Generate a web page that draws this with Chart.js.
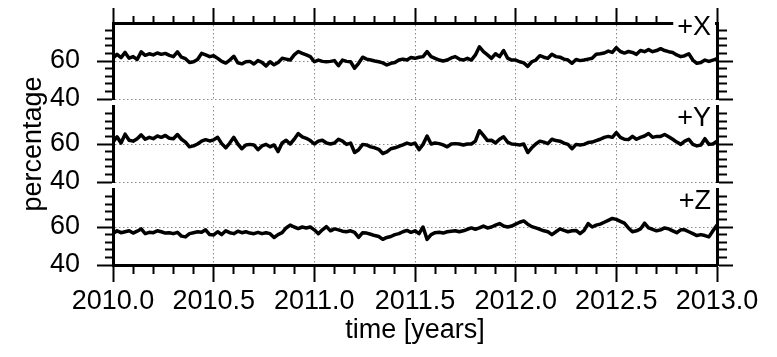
<!DOCTYPE html>
<html>
<head>
<meta charset="utf-8">
<script src="https://cdn.jsdelivr.net/npm/chart.js@4/dist/chart.umd.min.js"></script>
<style>
  html, body { margin: 0; padding: 0; background: #fff; }
  #wrap { position: relative; width: 777px; height: 357px; overflow: hidden; }
  canvas { position: absolute; left: 0; }
</style>
</head>
<body>
<div id="wrap">
  <canvas id="panelX" width="777" height="180" style="top:-40px"></canvas>
  <canvas id="panelY" width="777" height="200" style="top:40px"></canvas>
  <canvas id="panelZ" width="777" height="217" style="top:140px"></canvas>
</div>
<script>
// sampled every 0.02 yr from 2010.0 to 2013.0 (151 points per component)
const startYear = 2010;
const sampleStep = 0.02;

const xSeries = [
    61.5, 63.5, 61.8, 64.5, 61.5, 62.3, 60.8, 64.8, 63.0, 63.8,
    63.2, 64.2, 63.5, 64.0, 63.0, 62.3, 64.8, 62.0, 61.2, 59.2,
    59.6, 60.8, 64.0, 63.2, 62.3, 62.8, 61.4, 59.8, 58.9, 60.5,
    62.5, 59.0, 58.5, 59.6, 59.8, 58.4, 60.2, 59.3, 57.4, 59.6,
    58.0, 59.2, 61.4, 61.0, 60.5, 63.2, 65.0, 64.0, 63.2, 62.3,
    59.6, 60.5, 59.8, 59.6, 59.8,
    60.2, 57.5, 60.5, 59.8, 59.6, 56.2, 58.8, 62.0, 61.0, 60.5,
    60.0, 59.6, 59.0, 57.9, 58.8, 59.2, 60.5, 61.0, 60.5, 61.8,
    61.4, 62.0, 62.3, 64.9, 62.3, 61.4, 60.5, 60.0, 60.5, 61.6,
    62.3, 61.0, 60.5, 61.4, 60.5, 63.2, 67.5, 64.9, 63.2, 61.4,
    63.8, 62.3, 65.5, 61.5, 60.5, 60.5, 59.6, 59.0, 57.2, 59.6,
    60.5, 62.8, 62.0, 61.4,
    63.5, 62.3, 62.0, 61.0, 60.5, 58.8, 60.8, 60.2, 60.5, 61.0,
    61.4, 63.5, 63.8, 64.2, 65.2, 64.5, 67.0, 65.0, 64.2, 65.0,
    64.5, 63.5, 65.5, 64.9, 66.0, 64.9, 65.5, 66.5, 65.5, 64.9,
    64.5, 63.2, 62.3, 62.8, 63.8, 60.5, 58.8, 59.2, 60.5, 59.8,
    60.5, 61.2
];

const ySeries = [
    61.0, 63.8, 60.5, 65.2, 62.0, 61.5, 62.8, 64.8, 62.5, 63.5,
    62.8, 64.2, 63.5, 64.5, 63.0, 62.8, 65.0, 62.5, 61.0, 58.5,
    59.0, 60.0, 61.5, 62.3, 61.6, 62.2, 63.5, 60.2, 58.0, 60.5,
    63.5, 60.0, 57.5, 59.5, 59.8, 59.5, 57.0, 59.0, 59.8, 58.5,
    59.5, 56.0, 60.5, 62.0, 60.0, 62.5, 65.5, 63.8, 63.0, 61.8,
    60.0, 61.5, 62.0, 60.5, 60.0,
    60.5, 62.5, 61.5, 59.8, 60.5, 55.5, 57.0, 59.8, 59.5, 58.5,
    58.0, 57.2, 55.0, 55.8, 57.5, 58.0, 58.8, 59.5, 60.5, 59.8,
    60.5, 57.0, 59.8, 64.2, 60.0, 60.5, 60.2, 59.5, 58.5, 60.0,
    60.2, 60.0, 59.5, 60.0, 60.0, 61.5, 67.0, 64.5, 61.8, 62.0,
    60.5, 62.5, 63.8, 61.0, 60.0, 59.8, 59.5, 60.0, 55.5, 58.0,
    60.0, 61.5, 61.0, 60.2,
    62.5, 61.8, 61.5, 60.5, 59.8, 57.5, 59.8, 59.5, 59.8, 60.8,
    61.0, 61.8, 62.5, 63.5, 64.0, 63.5, 66.0, 63.5, 62.5, 62.3,
    64.0, 62.5, 63.5, 64.2, 65.5, 63.5, 64.0, 64.0, 65.0, 63.8,
    62.5, 61.0, 59.8, 61.5, 62.5, 59.8, 59.0, 59.5, 62.8, 59.8,
    60.0, 61.5
];

const zSeries = [
    56.5, 58.0, 57.0, 57.5, 58.0, 56.8, 57.8, 59.0, 56.5, 57.2,
    57.0, 58.0, 57.5, 56.8, 57.0, 56.5, 57.2, 55.2, 54.8, 56.5,
    57.0, 57.5, 57.2, 58.5, 56.0, 55.8, 57.5, 56.0, 58.0, 57.0,
    56.5, 57.8, 57.0, 57.5, 56.8, 56.5, 57.2, 56.5, 57.0, 56.5,
    54.5, 56.0, 57.0, 59.5, 61.0, 60.0, 59.2, 60.0, 59.5, 60.0,
    58.5, 56.5, 58.5, 60.2, 58.0,
    59.0, 58.5, 57.8, 57.5, 58.0, 57.2, 54.5, 57.0, 56.8, 56.2,
    55.5, 55.0, 53.5, 54.5, 55.0, 56.0, 56.5, 57.5, 58.2, 57.2,
    58.0, 56.5, 60.0, 53.5, 56.0, 57.0, 57.2, 56.8, 57.5, 57.8,
    58.0, 57.5, 58.0, 58.8, 59.5, 58.8, 59.5, 60.5, 59.5, 60.0,
    61.0, 61.8, 60.5, 60.0, 60.5, 61.5, 62.5, 63.2, 61.5, 60.2,
    59.5, 58.8, 58.0, 57.5,
    56.0, 57.5, 59.0, 58.2, 57.5, 58.0, 58.2, 56.5, 58.2, 61.8,
    60.0, 61.0, 61.5, 62.5, 63.5, 64.5, 64.0, 63.0, 62.0, 59.5,
    57.5, 58.0, 59.0, 62.0, 59.5, 58.8, 58.0, 58.5, 59.5, 59.0,
    58.0, 57.0, 58.5, 58.5, 57.5, 56.5, 55.5, 56.0, 55.5, 54.8,
    58.0, 61.0
];

const panelNames = ['+X', '+Y', '+Z'];
const yMin = 40, yMax = 80, yStep = 4, yMajor = 20;
const xMin = 2010, xMax = 2013, xStep = 0.1, xMajor = 0.5;

const FONT = '"Liberation Sans", Arial, Helvetica, sans-serif';
const FS = 27;
const DOT = '#8a8a8a';
const NONE = 'rgba(0,0,0,0)';

const years = xSeries.map((v, i) => startYear + i * sampleStep);

function isMajorX(v) {
    return Math.abs(v / xMajor - Math.round(v / xMajor)) < 1e-6;
}
function isMajorY(v) {
    return Math.abs(v % yMajor) < 1e-6;
}

function yScale(side, labels, title) {
    return {
        type: 'linear',
        position: side,
        min: yMin,
        max: yMax,
        afterFit: s => { s.width = side === 'left' ? 113 : 60; },
        ticks: {
            stepSize: yStep,
            autoSkip: false,
            display: labels,
            padding: 17,
            color: '#000',
            font: { family: FONT, size: FS },
            callback: v => (isMajorY(v) && v < yMax) ? String(v) : ''
        },
        grid: {
            drawOnChartArea: side === 'left',
            color: c => (c.tick && isMajorY(c.tick.value) && c.tick.value < yMax) ? DOT : NONE,
            lineWidth: 1,
            tickLength: 16,
            tickWidth: 2,
            tickColor: c => (c.tick && c.tick.value < yMax) ? '#000' : NONE,
            tickBorderDash: c => (c.tick && isMajorY(c.tick.value)) ? [] : [8, 8],
            tickBorderDashOffset: c => (side === 'left' && c.tick && !isMajorY(c.tick.value)) ? 8 : 0
        },
        border: { display: true, color: '#000', width: 3, dash: [1.5, 2.5] },
        title: title ? {
            display: true,
            text: title,
            color: '#000',
            font: { family: FONT, size: FS },
            padding: { top: 17, bottom: 0 }
        } : { display: false }
    };
}

function xScale(pos, ticksOn, labels, height, title) {
    const tl = pos === 'top' ? 15 : 17;
    const minor = 7;
    return {
        type: 'linear',
        position: pos,
        min: xMin,
        max: xMax,
        afterFit: s => { s.height = height; },
        ticks: {
            stepSize: xStep,
            maxTicksLimit: 100,
            autoSkip: false,
            maxRotation: 0,
            minRotation: 0,
            display: labels,
            padding: 3,
            color: '#000',
            font: { family: FONT, size: FS },
            callback: v => isMajorX(v) ? v.toFixed(1) : ''
        },
        grid: {
            drawTicks: ticksOn,
            color: c => (c.tick && isMajorX(c.tick.value) && c.tick.value > xMin + 0.01 && c.tick.value < xMax - 0.01) ? DOT : NONE,
            lineWidth: 1,
            tickLength: tl,
            tickWidth: 2,
            tickColor: '#000',
            tickBorderDash: c => (c.tick && isMajorX(c.tick.value)) ? [] : (pos === 'top' ? [minor, tl - minor] : [minor, 30]),
            tickBorderDashOffset: c => (pos === 'top' && c.tick && !isMajorX(c.tick.value)) ? minor : 0
        },
        border: { display: ticksOn, color: '#000', width: 3, dash: [1.5, 2.5] },
        title: title ? {
            display: true,
            text: title,
            color: '#000',
            font: { family: FONT, size: FS },
            padding: { top: 0, bottom: 10 }
        } : { display: false }
    };
}

const panelLabel = {
    id: 'panelLabel',
    afterDraw(chart, args, o) {
        const { ctx, chartArea } = chart;
        ctx.save();
        ctx.font = FS + 'px ' + FONT;
        ctx.textAlign = 'right';
        ctx.textBaseline = 'alphabetic';
        const w = ctx.measureText(o.text).width;
        if (o.clear) {
            ctx.fillStyle = '#fff';
            ctx.fillRect(chartArea.right - w - 10, chartArea.top + o.dy - 28, w + 8, 32);
        }
        ctx.fillStyle = '#000';
        ctx.fillText(o.text, chartArea.right - 6, chartArea.top + o.dy);
        ctx.restore();
    }
};

function makePanel(id, series, name, cfg) {
    const pts = series.map((v, i) => ({ x: years[i], y: v }));
    return new Chart(document.getElementById(id), {
        type: 'line',
        data: {
            datasets: [{
                data: pts,
                borderColor: '#000',
                borderWidth: 3.5,
                borderJoinStyle: 'round',
                pointRadius: 0,
                tension: 0,
                fill: false
            }]
        },
        options: {
            responsive: false,
            animation: false,
            layout: { autoPadding: false, padding: cfg.padding },
            plugins: {
                legend: { display: false },
                tooltip: { enabled: false },
                panelLabel: { text: name, dy: cfg.labelDy, clear: cfg.clear }
            },
            scales: {
                x: cfg.x,
                y: yScale('left', true, cfg.yTitle),
                yR: yScale('right', false, null)
            }
        },
        plugins: [panelLabel]
    });
}

// canvas top -40: plot area 23..99
makePanel('panelX', xSeries, panelNames[0], {
    padding: { top: 40, bottom: 41, left: 0, right: 0 },
    x: xScale('top', true, false, 23, null),
    labelDy: 12,
    clear: true
});

// canvas top 40: plot area 106..182
makePanel('panelY', ySeries, panelNames[1], {
    padding: { top: 55, bottom: 58, left: 0, right: 0 },
    x: xScale('top', false, false, 11, null),
    yTitle: 'percentage',
    labelDy: 20,
    clear: false
});

// canvas top 140: plot area 189..265
makePanel('panelZ', zSeries, panelNames[2], {
    padding: { top: 49, bottom: 0, left: 0, right: 0 },
    x: xScale('bottom', true, true, 92, 'time [years]'),
    labelDy: 20,
    clear: false
});
</script>
</body>
</html>
